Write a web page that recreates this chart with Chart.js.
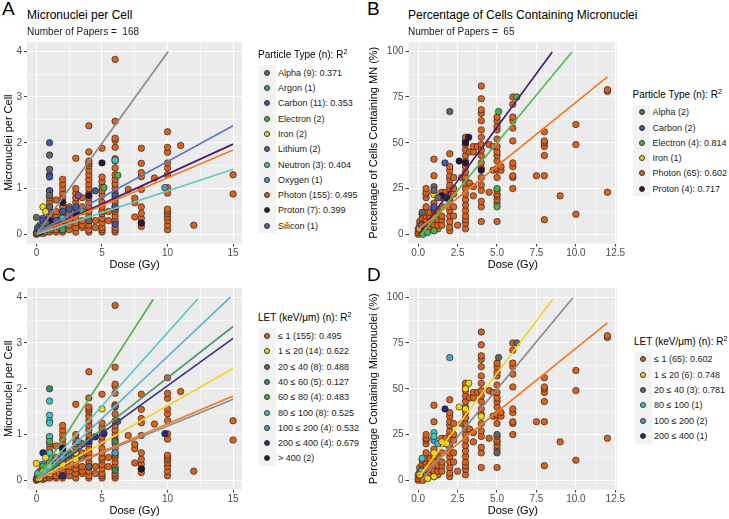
<!DOCTYPE html>
<html><head><meta charset="utf-8">
<script src="https://cdn.jsdelivr.net/npm/chart.js@4.4.1/dist/chart.umd.min.js"></script>
<style>
body{margin:0;background:#fff;width:729px;height:519px;position:relative;overflow:hidden;font-family:"Liberation Sans",Arial,sans-serif;color:#000;}
.abs{position:absolute;white-space:pre;}
canvas{position:absolute;}
.letter{font-size:19px;line-height:19px;}
.title{font-size:12px;line-height:14px;}
.sub{font-size:10px;line-height:12px;color:#1a1a1a;}
.lgt{font-size:10px;line-height:14px;}
.lgi{font-size:9px;line-height:12px;color:#1a1a1a;}
.keybg{position:absolute;background:#F2F2F2;}
.dot{position:absolute;width:6px;height:6px;border-radius:50%;border:0.6px solid #333;box-sizing:border-box;}
sup{font-size:7px;line-height:0;vertical-align:4px;}
</style></head><body>
<canvas id="cA" width="250" height="242" style="left:0px;top:30px"></canvas>
<canvas id="cB" width="265" height="242" style="left:365px;top:30px"></canvas>
<canvas id="cC" width="250" height="242" style="left:0px;top:276px"></canvas>
<canvas id="cD" width="265" height="242" style="left:365px;top:276px"></canvas>

<div class="abs letter" style="left:2px;top:-1px">A</div>
<div class="abs letter" style="left:367px;top:-1px">B</div>
<div class="abs letter" style="left:2px;top:265px">C</div>
<div class="abs letter" style="left:367px;top:265px">D</div>
<div class="abs title" style="left:27px;top:8px">Micronuclei per Cell</div>
<div class="abs sub" style="left:27px;top:26px">Number of Papers =  168</div>
<div class="abs title" style="left:408px;top:8px">Percentage of Cells Containing Micronuclei</div>
<div class="abs sub" style="left:408px;top:26px">Number of Papers =  65</div>

<script>
// ---------------- DATA ----------------
// Panel A / C : micronuclei per cell
const photonMnDoses = [0, 0.1, 0.25, 0.5, 0.75, 1, 1.25, 1.5, 1.75, 2, 2.5, 3, 3.5, 4, 4.5, 5, 5.5, 6, 7, 7.5, 8, 9, 10, 11, 12, 15];
const photonMnValues = [
  [0, 0.02, 0.04],
  [0.05, 0.08, 0.12],
  [0.03, 0.08, 0.15, 0.2],
  [0.02, 0.06, 0.1, 0.15, 0.22, 0.3],
  [0.05, 0.12, 0.2],
  [0.05, 0.1, 0.15, 0.25, 0.35, 0.4, 0.5, 0.6, 0.7, 0.8, 0.95],
  [0.1, 0.2],
  [0.05, 0.1, 0.2, 0.3, 0.4, 0.5, 0.75],
  [0.15, 0.3],
  [0.05, 0.1, 0.2, 0.3, 0.4, 0.5, 0.6, 0.7, 0.8, 0.9, 1.0, 1.1, 1.2],
  [0.1, 0.2, 0.3, 0.45, 0.6],
  [0.05, 0.15, 0.25, 0.35, 0.45, 0.55, 0.7, 0.8, 0.9, 1.0, 1.66],
  [0.15, 0.2, 0.3, 0.5, 0.6, 0.8],
  [0.05, 0.1, 0.2, 0.3, 0.4, 0.5, 0.6, 0.7, 0.8, 0.9, 1.0, 1.1, 1.2, 1.3, 1.4, 1.5, 1.55, 1.6, 1.8, 2.37],
  [0.15, 0.3],
  [0.05, 0.1, 0.15, 0.25, 0.35, 0.45, 0.5, 0.6, 0.7, 0.85, 0.95, 1.05, 1.15, 1.25, 1.88],
  [0.3, 0.5],
  [0.05, 0.1, 0.15, 0.25, 0.3, 0.4, 0.5, 0.55, 0.6, 0.7, 0.8, 0.9, 1.0, 1.1, 1.2, 1.3, 1.45, 1.6, 1.65, 1.9, 2.05, 2.1, 2.47, 3.82],
  [0.98],
  [0.38, 0.69, 0.79],
  [0.17, 0.25, 0.35, 0.46, 0.6, 0.98, 1.26, 1.35, 1.55, 1.88],
  [1.23],
  [0.1, 0.2, 0.3, 0.38, 0.45, 0.5, 0.55, 0.9, 1.02, 1.3, 1.45, 1.56, 1.79, 1.9, 2.24],
  [1.94],
  [0.2],
  [0.88, 1.3]
];
const otherMnDose  = [1, 1, 1, 1, 1, 1, 1, 0, 0.5, 0.7, 5, 5.15, 6.2, 4.5, 4, 3.2, 9.8, 6, 6, 8, 2, 2.5, 1.5, 0.5, 0.25, 0.5, 0.75, 1, 2, 3, 1, 0.5, 2, 6, 3.5, 0.25, 1, 0.1, 2, 4, 1, 0.5, 3, 6];
const otherMnValue = [2.0, 1.73, 1.42, 1.3, 1.25, 0.95, 0.85, 0.37, 0.6, 0.5, 1.56, 1.02, 1.29, 0.95, 0.85, 0.85, 1.02, 0.85, 1.62, 0.25, 0.5, 0.55, 0.3, 0.2, 0.1, 0.15, 0.25, 0.3, 0.35, 0.6, 0.5, 0.35, 0.1, 0.22, 0.5, 0.05, 0.6, 0.15, 0.7, 0.3, 0.15, 0.3, 0.45, 0.6];
const otherMnType  = ['Carbon','Alpha','Alpha','Carbon','Carbon','Carbon','Alpha','Alpha','Iron','Iron','Proton','Electron','Electron','Carbon','Proton','Lithium','Oxygen','Carbon','Neutron','Proton','Carbon','Carbon','Carbon','Neutron','Alpha','Alpha','Alpha','Proton','Neutron','Carbon','Silicon','Lithium','Argon','Carbon','Electron','Proton','Alpha','Carbon','Proton','Alpha','Neutron','Carbon','Proton','Carbon'];
const otherMnLet   = ['40 ≤ 60','80 ≤ 100','80 ≤ 100','80 ≤ 100','80 ≤ 100','80 ≤ 100','60 ≤ 80','1 ≤ 20','200 ≤ 400','1 ≤ 20','1 ≤ 20','200 ≤ 400','20 ≤ 40','200 ≤ 400','200 ≤ 400','100 ≤ 200','200 ≤ 400','40 ≤ 60','20 ≤ 40','> 400','100 ≤ 200','40 ≤ 60','60 ≤ 80','1 ≤ 20','80 ≤ 100','80 ≤ 100','60 ≤ 80','1 ≤ 20','1 ≤ 20','1 ≤ 20','100 ≤ 200','100 ≤ 200','200 ≤ 400','40 ≤ 60','20 ≤ 40','1 ≤ 20','80 ≤ 100','80 ≤ 100','> 400','20 ≤ 40','1 ≤ 20','60 ≤ 80','1 ≤ 20','100 ≤ 200'];

// Panel B / D : percentage of cells containing MN
const photonPctDoses = [0, 0.1, 0.25, 0.5, 0.75, 1, 1.25, 1.5, 1.75, 2, 2.25, 2.5, 2.75, 3, 3.25, 3.5, 3.75, 4, 4.5, 4.75, 5, 5.25, 6, 7.5, 8, 9, 10, 12];
const photonPctValues = [
  [0, 1, 3],
  [2, 5, 7],
  [3, 6, 9, 11],
  [2, 4, 6, 8, 10, 12, 15, 20, 22, 23, 25],
  [4, 6, 9, 10, 12],
  [2, 5, 8, 10, 13, 15, 17, 23, 32, 41],
  [3, 5, 8, 13],
  [5, 8, 10, 15, 20, 23],
  [20, 23],
  [2, 4, 7, 10, 13, 15, 18, 20, 22, 25, 27, 30, 32, 35, 37, 44],
  [10, 15, 22, 25, 31],
  [5],
  [31],
  [3, 6, 8, 10, 13, 16, 19, 22, 25, 28, 31, 34, 37, 40, 43, 46, 49, 51, 53],
  [28, 45],
  [21, 26, 45, 48],
  [48],
  [7, 15, 18, 24, 27, 31, 36, 39, 43, 46, 49, 53, 57, 62, 66, 68, 74, 81],
  [23, 49],
  [35, 48],
  [7, 17, 19, 21, 22, 24, 31, 35, 36, 40, 43, 45, 48, 52, 57, 59, 62, 64],
  [35, 37],
  [25, 31, 32, 37, 39, 51, 58, 62, 64, 71, 75],
  [32],
  [8, 32, 43, 48, 50, 51, 56],
  [21],
  [11, 49, 60],
  [23, 78, 79]
];
const otherPctDose  = [2, 1, 1, 1, 1.7, 1, 2.6, 3.2, 3.0, 1.8, 5.1, 6.25, 5, 5, 0.3, 0.6, 1, 0.25, 1.25, 0.1, 4, 3, 1, 0.2, 1.5];
const otherPctValue = [67, 26, 24, 21.7, 39, 14, 40, 53, 50, 20, 67, 75, 25, 15, 0, 1, 2, 12, 20, 3, 35, 39, 15, 5, 21];
const otherPctType  = ['Alpha','Alpha','Alpha','Iron','Carbon','Carbon','Proton','Proton','Proton','Proton','Electron','Electron','Electron','Electron','Electron','Electron','Electron','Alpha','Alpha','Iron','Proton','Proton','Carbon','Alpha','Proton'];
const otherPctLet   = ['100 ≤ 200','80 ≤ 100','80 ≤ 100','100 ≤ 200','200 ≤ 400','1 ≤ 20','1 ≤ 20','1 ≤ 20','1 ≤ 20','1 ≤ 20','20 ≤ 40','20 ≤ 40','20 ≤ 40','20 ≤ 40','≤ 1','1 ≤ 20','1 ≤ 20','80 ≤ 100','80 ≤ 100','1 ≤ 20','1 ≤ 20','1 ≤ 20','1 ≤ 20','80 ≤ 100','1 ≤ 20'];

// Fitted regression lines (start/end of each fitted segment)
const fitKeysA = ['Alpha', 'Carbon', 'Neutron', 'Photon', 'Proton'];
const fitX0A = [0, 0, 0, 0, 0];
const fitY0A = [0, 0.03, 0, 0.02, 0.01];
const fitX1A = [10.05, 15, 15, 15, 15];
const fitY1A = [3.99, 2.37, 1.42, 1.84, 1.97];

const fitKeysB = ['Electron', 'Photon', 'Proton'];
const fitX0B = [0.2, 0, 0.05];
const fitY0B = [0, 2.5, 0.5];
const fitX1B = [9.75, 12, 8.5];
const fitY1B = [99.5, 86, 99.6];

const fitKeysC = ['≤ 1', '1 ≤ 20', '20 ≤ 40', '40 ≤ 60', '60 ≤ 80', '80 ≤ 100', '100 ≤ 200', '200 ≤ 400'];
const fitX0C = [0, 0, 0, 0, 0, 0, 0, 0];
const fitY0C = [0.02, 0, 0.02, 0, 0, 0.03, 0, 0];
const fitX1C = [15, 15, 15, 15, 8.9, 12.3, 14.8, 15];
const fitY1C = [1.84, 2.44, 1.77, 3.36, 3.95, 3.96, 4.0, 3.1];

const fitKeysD = ['1 ≤ 20', '20 ≤ 40', '≤ 1'];
const fitX0D = [0.15, 0.2, 0];
const fitY0D = [3, 0, 2.5];
const fitX1D = [8.55, 9.8, 12];
const fitY1D = [99, 99.5, 86];

// Legend contents
const typesA  = ['Alpha','Argon','Carbon','Electron','Iron','Lithium','Neutron','Oxygen','Photon','Proton','Silicon'];
const papersA = [9, 1, 11, 2, 2, 2, 3, 1, 155, 7, 1];
const r2A     = ['0.371','','0.353','','','','0.404','','0.495','0.399',''];
const typesB  = ['Alpha','Carbon','Electron','Iron','Photon','Proton'];
const papersB = [2, 2, 4, 1, 65, 4];
const r2B     = ['','','0.814','','0.602','0.717'];
const letC    = ['≤ 1','1 ≤ 20','20 ≤ 40','40 ≤ 60','60 ≤ 80','80 ≤ 100','100 ≤ 200','200 ≤ 400','> 400'];
const papersC = [155, 14, 8, 5, 4, 8, 4, 4, 2];
const r2C     = ['0.495','0.622','0.488','0.127','0.483','0.525','0.532','0.679',''];
const letD    = ['≤ 1','1 ≤ 20','20 ≤ 40','80 ≤ 100','100 ≤ 200','200 ≤ 400'];
const papersD = [65, 6, 3, 1, 2, 1];
const r2D     = ['0.602','0.748','0.781','','',''];

// Axis ticks
const xMajorMn = [0, 5, 10, 15];        const xLabelMn = ['0', '5', '10', '15'];
const xMinorMn = [2.5, 7.5, 12.5];
const yMajorMn = [0, 1, 2, 3, 4];        const yLabelMn = ['0', '1', '2', '3', '4'];
const yMinorMn = [0.5, 1.5, 2.5, 3.5];
const xMajorPct = [0, 2.5, 5, 7.5, 10, 12.5]; const xLabelPct = ['0.0', '2.5', '5.0', '7.5', '10.0', '12.5'];
const xMinorPct = [1.25, 3.75, 6.25, 8.75, 11.25];
const yMajorPct = [0, 25, 50, 75, 100];  const yLabelPct = ['0', '25', '50', '75', '100'];
const yMinorPct = [12.5, 37.5, 62.5, 87.5];

// ---------------- STYLES ----------------
const FONT = '"Liberation Sans", Arial, sans-serif';
const typeFill = {Alpha:'#666666', Argon:'#3d9b74', Carbon:'#3f5aa6', Electron:'#4daf4a', Iron:'#f0d21a', Lithium:'#7d4f9e', Neutron:'#52c3b7', Oxygen:'#4b97b6', Photon:'#d9621e', Proton:'#25183d', Silicon:'#7a509b'};
const typeLine = {Alpha:'#8c8c8c', Carbon:'#5b79c4', Electron:'#5cb85c', Neutron:'#62c9bf', Photon:'#f17a28', Proton:'#4b1f6d'};
const letFill = {'≤ 1':'#d9621e','1 ≤ 20':'#f2d21c','20 ≤ 40':'#666666','40 ≤ 60':'#3e8a5c','60 ≤ 80':'#4caf4c','80 ≤ 100':'#3fc2c2','100 ≤ 200':'#4d9fcc','200 ≤ 400':'#2a2a78','> 400':'#1f1a36'};
const letLine = {'≤ 1':'#f17a28','1 ≤ 20':'#f6d32a','20 ≤ 40':'#8c8c8c','40 ≤ 60':'#4f9a69','60 ≤ 80':'#57b04e','80 ≤ 100':'#55c9c9','100 ≤ 200':'#6aaed6','200 ≤ 400':'#34338c'};

// ---------------- BUILD ----------------
function collect(doses, valueCols, oDose, oVal, oType, oLet) {
  const out = [];
  doses.forEach((d, i) => valueCols[i].forEach(v => out.push({x: d, y: v, type: 'Photon', let: '≤ 1'})));
  oDose.forEach((d, i) => out.push({x: d, y: oVal[i], type: oType[i], let: oLet[i]}));
  return out;
}
const mnPoints  = collect(photonMnDoses, photonMnValues, otherMnDose, otherMnValue, otherMnType, otherMnLet);
const pctPoints = collect(photonPctDoses, photonPctValues, otherPctDose, otherPctValue, otherPctType, otherPctLet);

function datasets(points, key, cats, fills, fitKeys, x0, y0, x1, y1, lines, bottomCat) {
  const ds = [];
  fitKeys.forEach((k, i) => ds.push({
    data: [{x: x0[i], y: y0[i]}, {x: x1[i], y: y1[i]}], showLine: true, borderColor: lines[k],
    borderWidth: 1.7, pointRadius: 0, fill: false
  }));
  const order = cats.filter(c => c !== bottomCat).concat([bottomCat]);
  order.forEach(c => ds.push({
    data: points.filter(p => p[key] === c).map(p => ({x: p.x, y: p.y})),
    showLine: false, pointRadius: 3.25, pointBorderWidth: 0.6, pointBorderColor: '#1a1a1a',
    pointBackgroundColor: fills[c], pointHoverRadius: 3.25
  }));
  return ds;
}

const bgPlugin = {id: 'panelBg', beforeDraw(chart) {
  const {ctx, chartArea: a} = chart; ctx.save(); ctx.fillStyle = '#EBEBEB';
  ctx.fillRect(a.left, a.top, a.right - a.left, a.bottom - a.top); ctx.restore();
}};

function axis(pos, min, max, majors, labels, minors, title, fitSize) {
  const all = majors.concat(minors).sort((a, b) => a - b);
  const isMajor = v => majors.some(m => Math.abs(m - v) < 1e-9);
  return {
    type: 'linear', position: pos, min, max,
    afterBuildTicks: s => { s.ticks = all.map(v => ({value: v})); },
    afterFit: s => { if (pos === 'left') s.width = fitSize; else s.height = fitSize; },
    grid: {
      color: '#FFFFFF', drawTicks: true, tickLength: 3,
      lineWidth: c => (c.tick && isMajor(c.tick.value)) ? 1.1 : 0.5,
      tickColor: c => (c.tick && isMajor(c.tick.value)) ? '#333333' : 'rgba(0,0,0,0)',
      tickWidth: 1
    },
    border: {display: false},
    ticks: {
      autoSkip: false, maxRotation: 0, minRotation: 0, padding: pos === 'left' ? 2 : 1, color: '#4D4D4D',
      font: {family: FONT, size: 10},
      callback: v => { const i = majors.findIndex(m => Math.abs(m - v) < 1e-9); return i >= 0 ? labels[i] : ''; }
    },
    title: {display: true, text: title, color: '#000', font: {family: FONT, size: 11},
      padding: pos === 'left' ? {top: 2, bottom: 0} : {top: 0, bottom: 0}}
  };
}

function makeChart(id, ds, padRight, xs, ys) {
  new Chart(document.getElementById(id).getContext('2d'), {
    type: 'scatter',
    data: {datasets: ds},
    options: {
      responsive: false, animation: false, devicePixelRatio: 1,
      layout: {padding: {left: 0, right: padRight, top: 12, bottom: 0}},
      plugins: {legend: {display: false}, tooltip: {enabled: false}},
      events: [],
      scales: {x: xs, y: ys}
    },
    plugins: [bgPlugin]
  });
}

makeChart('cA',
  datasets(mnPoints, 'type', typesA, typeFill, fitKeysA, fitX0A, fitY0A, fitX1A, fitY1A, typeLine, 'Photon'), 8,
  axis('bottom', -0.72, 15.68, xMajorMn, xLabelMn, xMinorMn, 'Dose (Gy)', 28.5),
  axis('left', -0.2, 4.2, yMajorMn, yLabelMn, yMinorMn, 'Micronuclei per Cell', 27));
makeChart('cB',
  datasets(pctPoints, 'type', typesB, typeFill, fitKeysB, fitX0B, fitY0B, fitX1B, fitY1B, typeLine, 'Photon'), 13,
  axis('bottom', -0.615, 12.607, xMajorPct, xLabelPct, xMinorPct, 'Dose (Gy)', 28.5),
  axis('left', -5, 105, yMajorPct, yLabelPct, yMinorPct, 'Percentage of Cells Containing MN (%)', 43.5));
makeChart('cC',
  datasets(mnPoints, 'let', letC, letFill, fitKeysC, fitX0C, fitY0C, fitX1C, fitY1C, letLine, '≤ 1'), 8,
  axis('bottom', -0.72, 15.68, xMajorMn, xLabelMn, xMinorMn, 'Dose (Gy)', 28.5),
  axis('left', -0.2, 4.2, yMajorMn, yLabelMn, yMinorMn, 'Micronuclei per Cell', 27));
makeChart('cD',
  datasets(pctPoints, 'let', letD, letFill, fitKeysD, fitX0D, fitY0D, fitX1D, fitY1D, letLine, '≤ 1'), 13,
  axis('bottom', -0.615, 12.607, xMajorPct, xLabelPct, xMinorPct, 'Dose (Gy)', 28.5),
  axis('left', -5, 105, yMajorPct, yLabelPct, yMinorPct, 'Percentage Containing Micronuclei (%)', 43.5));

// ---------------- LEGENDS (HTML text) ----------------
function el(cls, left, top, html, extra) {
  const d = document.createElement('div'); d.className = cls;
  d.style.left = left + 'px'; d.style.top = top + 'px';
  if (html !== undefined) d.innerHTML = html;
  if (extra) Object.assign(d.style, extra);
  document.body.appendChild(d); return d;
}
function legend(L, titleY, titleText, cats, papers, r2, fills) {
  el('abs lgt', L, titleY - 7, titleText + ' R<sup>2</sup>');
  const step = 15.3, y0 = titleY + 17.7;
  el('keybg', L + 0.5, y0 - step / 2, undefined, {width: '17px', height: (cats.length * step) + 'px'});
  cats.forEach((c, i) => {
    const y = y0 + i * step;
    el('dot', L + 6, y - 3, undefined, {background: fills[c]});
    el('abs lgi', L + 20, y - 6, c + ' (' + papers[i] + ')' + (r2[i] ? ': ' + r2[i] : ''));
  });
}
legend(258, 55, 'Particle Type (n):', typesA, papersA, r2A, typeFill);
legend(632.5, 94.5, 'Particle Type (n):', typesB, papersB, r2B, typeFill);
legend(258, 318.3, 'LET (keV/μm) (n):', letC, papersC, r2C, letFill);
legend(634, 341.7, 'LET (keV/μm) (n):', letD, papersD, r2D, letFill);
</script>
</body></html>
